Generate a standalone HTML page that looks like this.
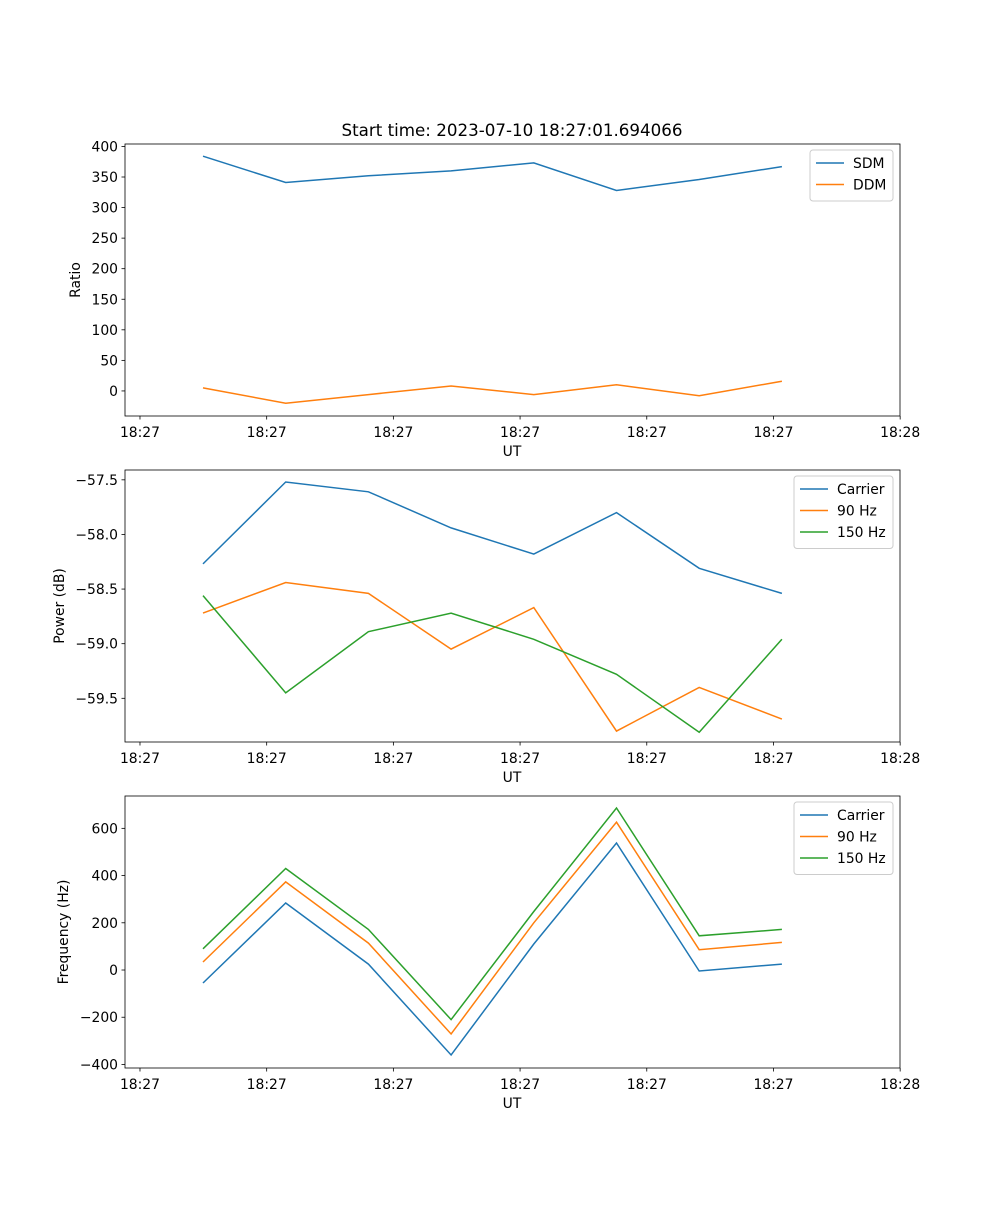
<!DOCTYPE html>
<html><head><meta charset="utf-8">
<style>
body{margin:0;background:#fff;font-family:"Liberation Sans","DejaVu Sans",sans-serif;}
svg text{font-family:"DejaVu Sans","Liberation Sans",sans-serif;fill:#000;}
</style></head>
<body>
<svg id="fig" width="1000" height="1200" xmlns="http://www.w3.org/2000/svg">
<text x="512" y="136" font-size="16.7" text-anchor="middle">Start time: 2023-07-10 18:27:01.694066</text>
</svg>
<script>
const sampleIdx = [0,1,2,3,4,5,6,7];
const xTickLabels = ["18:27","18:27","18:27","18:27","18:27","18:27","18:28"];
const sdm = [384,341,352,360,373,328,346,367];
const ddm = [5,-20,-6,8,-6,10,-8,16];
const pCarrier = [-58.27,-57.52,-57.61,-57.94,-58.18,-57.80,-58.31,-58.54];
const p90 = [-58.72,-58.44,-58.54,-59.05,-58.67,-59.80,-59.40,-59.69];
const p150 = [-58.56,-59.45,-58.89,-58.72,-58.96,-59.28,-59.81,-58.96];
const fCarrier = [-55,284,25,-360,110,538,-4,25];
const f90 = [34,373,114,-271,200,626,86,117];
const f150 = [90,430,172,-210,248,686,145,172];
const ratioTicks = [400,350,300,250,200,150,100,50,0];
const powerTicks = [-57.5,-58.0,-58.5,-59.0,-59.5];
const freqTicks = [600,400,200,0,-200,-400];

const svg = document.getElementById('fig');
const NS = 'http://www.w3.org/2000/svg';
const C = ['#1f77b4','#ff7f0e','#2ca02c'];
const L = 125, R = 900;
const FS = 13.9;
function xs(t){ return 203 + 82.7*t; }
function mk(tag, attrs){ const e=document.createElementNS(NS,tag); for(const k in attrs) e.setAttribute(k,attrs[k]); svg.appendChild(e); return e; }

function panel(name, top, bottom, ymin, ymax, ticks, fmt, ylabel, series, names, legW){
  const ys = v => bottom - (v-ymin)/(ymax-ymin)*(bottom-top);
  for(let s=0;s<series.length;s++){
    const pts = sampleIdx.map((t,i)=>xs(t).toFixed(1)+','+ys(series[s][i]).toFixed(1)).join(' ');
    const pl = mk('polyline',{points:pts,fill:'none',stroke:C[s],'stroke-width':1.5});
    
    
  }
  const fr = mk('rect',{x:L,y:top,width:R-L,height:bottom-top,fill:'none',stroke:'#000','stroke-width':0.8});
  
  
  ticks.forEach(v=>{
    const y=ys(v);
    mk('line',{x1:L-3.5,x2:L,y1:y,y2:y,stroke:'#000','stroke-width':0.8});
    const tx = mk('text',{x:L-7,y:y+5,'font-size':FS,'text-anchor':'end'});
    tx.textContent = fmt(v);
    
    
  });
  xTickLabels.forEach((lab,k)=>{
    const x = xs(-0.762 + k*1.532);
    mk('line',{x1:x,x2:x,y1:bottom,y2:bottom+3.5,stroke:'#000','stroke-width':0.8});
    const tx = mk('text',{x:x,y:bottom+21,'font-size':FS,'text-anchor':'middle'});
    tx.textContent = lab;
    
    
  });
  const xl = mk('text',{x:512,y:bottom+40,'font-size':FS,'text-anchor':'middle'});
  xl.textContent='UT';
  
  
  const cy=(top+bottom)/2;
  const yl = mk('text',{x:0,y:0,'font-size':FS,'text-anchor':'middle',transform:'translate('+(ylabel.x)+','+cy+') rotate(-90)'});
  yl.textContent=ylabel.t;
  
  
  const lx = 893-legW, ly = top+6, lh = 8+names.length*21.5;
  const lb = mk('rect',{x:lx,y:ly,width:legW,height:lh,rx:3,fill:'#fff','fill-opacity':0.8,stroke:'#ccc','stroke-width':1});
  
  
  names.forEach((n,i)=>{
    const yy = ly+13+i*21.5;
    mk('line',{x1:lx+6,x2:lx+34,y1:yy,y2:yy,stroke:C[i],'stroke-width':1.5});
    const t = mk('text',{x:lx+43,y:yy+5,'font-size':FS});
    t.textContent=n;
    
    
  });
}
panel('ratio-panel',144,416,-41,404,ratioTicks,v=>String(v),{x:80,t:'Ratio'},[sdm,ddm],['SDM','DDM'],83);
panel('power-panel',470,742,-59.90,-57.41,powerTicks,v=>'\u2212'+Math.abs(v).toFixed(1),{x:64,t:'Power (dB)'},[pCarrier,p90,p150],['Carrier','90 Hz','150 Hz'],99);
panel('frequency-panel',796,1068,-415,737,freqTicks,v=>(v<0?'\u2212':'')+Math.abs(v),{x:68,t:'Frequency (Hz)'},[fCarrier,f90,f150],['Carrier','90 Hz','150 Hz'],99);
</script>
</body></html>
